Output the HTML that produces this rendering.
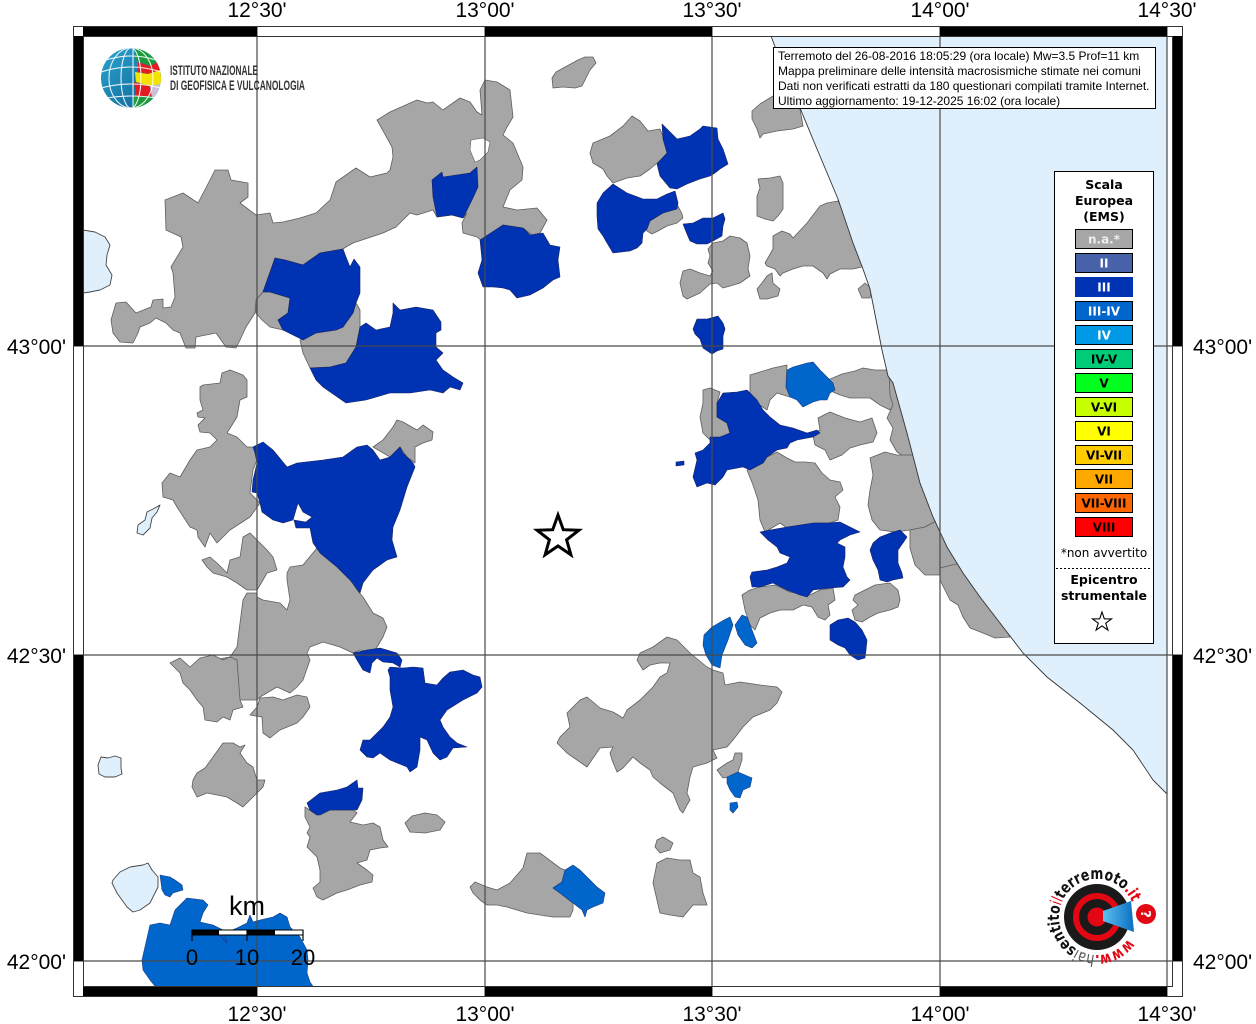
<!DOCTYPE html>
<html><head><meta charset="utf-8"><style>
html,body{margin:0;padding:0;background:#fff;}
svg{display:block;}
</style></head><body>
<svg width="1256" height="1024" viewBox="0 0 1256 1024" xmlns="http://www.w3.org/2000/svg">
<defs>
<clipPath id="map"><rect x="83" y="36" width="1090" height="951"/></clipPath>
<clipPath id="globe"><circle cx="131" cy="78" r="30"/></clipPath>
<linearGradient id="gb" x1="0" y1="0" x2="1" y2="1"><stop offset="0" stop-color="#2aa6cf"/><stop offset="1" stop-color="#0e5f92"/></linearGradient>
<linearGradient id="cone" x1="0" y1="0" x2="1" y2="0"><stop offset="0" stop-color="#5bc0f0"/><stop offset="1" stop-color="#0a6fc0"/></linearGradient>
</defs>
<rect width="1256" height="1024" fill="#fff"/>

<g clip-path="url(#map)">
<g fill="#a6a6a6" stroke="#5e5e5e" stroke-width="0.8" stroke-linejoin="round">
<polygon points="111,320 116,303 126,302 136,313 151,307 153,300 163,299 163,308 171,307 175,297 173,273 171,267 183,247 181,237 166,230 165,200 183,193 198,203 210,180 215,170 228,170 231,180 248,183 248,197 240,203 256,215 270,213 273,223 283,222 300,218 316,213 330,200 336,182 356,168 370,177 387,173 390,170 393,157 392,147 377,120 390,112 417,100 427,103 433,102 443,110 460,98 470,102 477,112 482,115 480,90 485,80 497,82 510,90 513,117 507,127 503,135 513,143 523,167 522,180 510,190 503,207 517,210 537,208 547,220 540,233 532,235 523,228 503,225 500,243 483,242 477,237 463,233 462,223 467,213 463,218 452,215 437,217 433,210 417,215 410,213 396,227 383,233 353,243 346,247 343,249 320,253 303,265 285,260 275,258 263,292 256,300 255,313 246,327 240,340 236,348 226,347 216,333 196,337 195,348 186,348 180,333 173,330 166,323 156,318 150,323 140,327 138,333 133,343 120,342 113,333"/>
<polygon points="256,300 263,292 270,292 290,298 288,313 278,320 283,330 270,327 262,320 256,313"/>
<polygon points="300,340 316,333 336,330 343,327 353,313 356,303 360,310 360,327 356,347 346,363 330,367 310,368 303,353"/>
<polygon points="552,78 556,72 567,66 578,60 585,57 593,57 596,63 590,70 586,78 582,86 575,88 563,87 553,88"/>
<polygon points="590,153 593,143 610,136 623,126 632,116 640,121 648,131 660,129 663,136 668,153 657,163 650,169 640,176 627,178 613,183 607,176 603,169 593,163"/>
<polygon points="643,219 652,213 663,213 673,208 678,206 682,214 683,218 677,223 667,226 658,231 652,234 647,231"/>
<polygon points="708,249 713,243 723,241 730,236 740,238 747,243 750,256 748,269 750,276 740,283 730,286 723,288 717,283 710,284 700,293 687,299 683,296 680,283 683,271 690,269 700,273 710,276 713,271 708,263 710,256"/>
<polygon points="758,179 770,178 780,176 783,183 783,209 778,216 773,221 765,219 757,216 757,196 760,188"/>
<polygon points="752,111 760,104 773,96 790,92 800,100 800,109 803,126 793,129 777,131 763,134 760,138 757,129 752,119"/>
<polygon points="765,263 773,249 773,236 782,231 790,234 793,238 807,223 820,206 827,203 838,201 848,220 856,243 866,266 853,269 840,269 830,274 827,279 823,273 813,266 803,266 793,269 783,273 780,276 775,269 767,266"/>
<polygon points="757,289 762,283 767,276 772,273 773,283 780,289 778,296 767,299 760,299"/>
<polygon points="858,289 865,283 872,289 870,298 862,298"/>
<polygon points="750,375 760,372 773,368 787,365 786,387 790,397 777,393 770,400 767,410 757,403 750,393"/>
<polygon points="703,390 710,388 720,392 717,403 717,417 727,423 730,433 720,438 710,440 703,433 700,417 703,403"/>
<polygon points="828,380 842,374 855,371 863,368 875,370 890,370 896,385 899,398 890,410 880,405 870,398 862,398 850,398 840,395 833,392"/>
<polygon points="818,418 830,412 845,418 860,422 872,418 877,433 873,442 860,445 850,448 842,455 830,460 825,450 815,445 813,435 820,430"/>
<polygon points="889,372 897,385 903,405 910,433 916,455 905,457 897,452 890,440 893,428 887,418 893,405 890,395"/>
<polygon points="747,470 763,463 767,457 777,452 787,458 795,462 805,462 815,463 822,473 830,480 840,482 843,490 835,497 840,507 838,520 830,523 815,523 803,525 790,530 780,523 765,532 760,520 758,500 753,485"/>
<polygon points="870,458 885,452 897,455 916,455 923,483 933,505 938,520 925,527 910,530 895,532 880,530 872,520 868,505 870,490 873,475"/>
<polygon points="910,530 925,527 938,520 950,547 960,563 950,570 940,575 925,575 915,565 910,548"/>
<polygon points="940,568 960,563 966,573 978,590 990,607 1003,623 1010,637 995,638 983,633 970,628 963,617 958,605 950,600 945,590 940,580"/>
<polygon points="742,595 750,590 760,587 775,585 790,592 810,595 820,590 833,588 835,600 828,605 830,615 825,620 818,617 812,607 803,605 793,610 780,610 770,613 760,618 755,630 750,625 745,610"/>
<polygon points="855,595 865,590 875,585 890,583 898,590 900,600 898,607 890,610 878,613 870,617 862,622 855,620 852,610 858,605 853,600"/>
<polygon points="200,387 203,385 220,383 222,373 230,370 243,375 247,380 247,397 240,400 237,417 227,433 237,437 247,447 257,447 257,460 253,470 250,493 260,503 250,517 230,530 217,543 210,533 205,547 198,537 197,530 190,527 177,507 173,500 163,497 162,483 170,473 180,477 190,460 197,450 210,447 217,440 210,433 200,432 198,425 205,418 198,417 197,413 203,410 200,400"/>
<polygon points="373,447 383,440 393,427 397,420 403,422 417,430 423,425 433,432 432,440 423,443 415,447 415,463 407,457 400,447 390,457"/>
<polygon points="290,567 303,565 317,548 343,567 357,590 363,597 373,613 383,618 387,627 383,637 377,647 373,653 360,650 353,653 340,647 323,642 310,647 307,653 310,660 303,680 297,687 290,693 277,687 260,697 257,700 250,700 237,700 223,703 217,697 220,677 213,660 230,657 237,647 240,623 243,600 247,593 257,593 257,597 263,600 280,603 287,610 290,600 287,580 287,573"/>
<polygon points="202,560 210,557 217,563 227,573 230,560 240,557 243,537 250,533 257,540 267,550 273,557 277,570 267,573 263,580 257,590 247,590 237,583 227,577 213,573 207,567"/>
<polygon points="170,663 180,658 190,667 200,658 213,655 223,660 230,657 237,660 240,700 243,707 233,710 230,720 223,717 217,722 205,720 203,707 197,700 190,690 183,683 180,673"/>
<polygon points="250,715 257,707 260,698 273,697 283,700 297,695 307,697 310,707 303,717 297,723 280,730 270,738 263,733 262,717"/>
<polygon points="193,780 197,773 205,768 213,757 223,743 233,743 240,747 245,745 240,753 247,763 253,767 257,780 265,780 263,787 257,793 253,797 243,807 237,803 227,797 217,795 207,793 197,797 192,787"/>
<polygon points="305,807 317,815 330,810 353,810 357,813 350,822 363,825 373,823 380,827 383,840 388,847 380,848 370,850 367,860 357,863 367,870 373,875 372,882 360,885 347,890 337,893 323,900 317,897 313,888 320,882 320,870 317,857 307,847 310,837 307,833 310,827 305,817"/>
<polygon points="405,823 412,816 425,813 437,815 445,822 440,830 425,833 410,832"/>
<polygon points="637,660 640,653 653,647 667,637 677,640 690,653 707,667 713,670 723,673 725,685 740,682 760,685 777,687 782,692 777,703 770,710 753,717 743,727 733,740 727,747 713,750 717,758 707,763 693,767 690,777 687,793 690,800 687,805 683,813 680,810 677,803 673,793 660,783 653,777 650,770 640,763 633,757 623,768 617,772 612,760 610,753 613,747 600,748 587,767 577,760 567,753 557,743 560,737 570,727 567,713 572,708 580,700 587,697 593,702 600,708 613,712 623,718 627,710 640,700 653,687 660,677 667,673 670,663 660,663 650,665 643,670"/>
<polygon points="717,770 727,763 733,760 735,753 742,753 742,760 738,772 730,777 723,778"/>
<polygon points="657,840 663,837 673,843 670,850 660,853 655,847"/>
<polygon points="653,883 657,863 667,858 680,860 690,860 693,873 700,877 703,893 707,905 693,905 683,917 670,915 660,913 657,900"/>
<polygon points="470,887 475,882 487,887 497,890 510,883 523,868 527,853 540,853 560,868 565,870 562,882 553,888 560,893 573,903 573,910 570,917 553,917 527,913 507,907 497,905 487,905 480,900 473,893"/>
</g>
<polygon points="471,140 483,138 490,142 488,152 480,160 475,162 470,150" fill="#fff" stroke="#5e5e5e" stroke-width="0.6"/>

<g fill="#0032b4" stroke="#1a2260" stroke-width="0.6" stroke-linejoin="round">
<polygon points="432,180 442,172 443,177 470,173 477,167 478,187 472,200 463,218 452,215 437,217 433,197"/>
<polygon points="480,240 503,225 523,228 530,235 543,233 550,245 560,247 558,260 560,277 553,280 543,288 530,295 517,298 510,290 503,288 493,287 483,287 478,273 482,260"/>
<polygon points="263,292 275,258 285,260 303,265 320,253 343,249 346,257 350,267 354,259 360,267 360,293 356,303 353,313 343,327 336,330 316,333 303,340 283,330 278,320 288,313 290,298 270,292"/>
<polygon points="310,368 316,380 323,387 346,403 366,400 390,393 410,393 430,390 443,393 450,387 460,390 463,383 453,377 443,370 436,360 443,353 436,347 436,333 441,330 441,322 433,310 416,307 400,310 393,303 393,313 390,327 376,330 366,323 360,327 356,347 346,363 330,367"/>
<polygon points="662,124 667,129 677,139 690,136 700,129 703,126 717,128 718,139 723,149 728,164 720,169 715,173 710,176 700,179 687,184 677,189 670,188 660,176 657,164 667,153 663,139"/>
<polygon points="597,203 603,193 613,184 627,193 643,199 657,199 667,194 675,191 678,203 677,209 663,213 650,221 647,229 643,233 642,243 637,248 630,251 613,253 607,243 603,236 598,229 597,216"/>
<polygon points="683,224 693,223 703,218 713,218 723,213 725,219 723,226 722,236 713,241 707,244 697,244 690,241 687,234"/>
<polygon points="693,329 697,319 707,319 718,316 723,323 725,329 723,336 723,349 717,351 712,354 703,348 700,339 695,334"/>
<polygon points="717,403 723,393 737,392 747,390 757,400 763,410 770,417 780,425 793,428 807,433 817,430 820,433 813,437 797,440 790,443 787,448 777,450 767,457 763,463 750,470 743,467 727,470 723,477 715,485 707,483 697,487 693,477 697,460 695,453 703,450 710,443 710,437 720,437 730,433 727,423 717,417"/>
<polygon points="676,462 684,461 684,465 676,466"/>
<polygon points="760,532 770,530 787,527 800,525 813,523 827,523 840,522 850,527 860,532 850,535 840,540 837,543 845,547 845,557 843,567 847,577 850,580 843,587 830,588 813,590 807,597 800,595 787,590 773,583 760,587 752,587 750,577 752,572 767,570 777,567 787,563 790,557 780,553 777,547 768,540"/>
<polygon points="870,550 873,543 880,537 893,532 900,530 907,537 903,543 898,550 898,563 902,573 903,578 893,580 887,582 880,580 878,570 873,560"/>
<polygon points="830,625 838,620 848,618 855,622 862,630 867,640 866,650 865,658 858,660 850,655 845,648 838,645 830,640"/>
<polygon points="253,447 263,442 273,450 287,467 297,463 323,460 343,457 357,447 367,445 373,450 380,460 390,457 400,447 403,453 413,463 415,467 407,487 400,510 393,527 392,540 397,557 387,560 373,570 363,583 360,593 350,580 337,567 320,553 313,543 310,528 296,528 294,520 306,522 312,517 303,512 298,503 293,520 283,523 273,520 262,512 260,503 257,493 252,492 253,480 257,463 255,453"/>
<polygon points="353,653 367,650 380,648 397,653 402,660 400,667 393,663 383,662 377,658 372,663 370,673 363,670 357,660"/>
<polygon points="388,670 390,667 403,668 413,667 423,668 425,683 437,685 443,678 450,672 463,670 473,675 480,677 482,687 477,693 463,700 447,710 440,720 443,727 450,737 457,743 467,747 453,748 447,757 440,760 433,753 427,740 420,737 420,750 417,767 410,772 407,767 390,760 380,753 373,758 367,757 360,750 363,740 370,740 383,727 390,717 393,707 390,690 390,677"/>
<polygon points="307,803 320,793 337,790 347,787 357,780 358,788 363,788 362,800 357,810 330,810 320,815 317,815 310,810"/>
</g>

<g fill="#0066cc" stroke="#1a3a80" stroke-width="0.6" stroke-linejoin="round">
<polygon points="786,387 787,370 793,367 807,363 813,362 820,370 827,377 833,383 835,390 830,393 827,400 820,400 813,402 803,407 797,400 790,397"/>
<polygon points="704,635 712,627 724,620 730,617 733,625 728,640 722,655 720,668 712,665 706,655 703,645"/>
<polygon points="735,625 742,615 747,617 752,630 757,643 752,648 745,645 738,635"/>
<polygon points="727,777 738,772 752,778 750,787 743,790 740,798 735,797 730,790 727,783"/>
<polygon points="730,803 737,802 738,807 733,813 730,810"/>
<polygon points="553,888 562,882 565,870 573,865 580,870 590,880 597,887 605,893 603,903 593,907 587,910 585,917 582,910 573,903 560,893"/>
<polygon points="160,875 170,877 175,880 182,885 183,890 173,893 170,897 165,895 162,890"/>
<polygon points="142,960 150,925 160,923 170,925 175,910 187,898 203,900 208,905 203,913 200,922 213,925 223,930 227,943 220,935 237,928 247,923 250,915 253,922 260,920 273,917 280,913 287,917 290,927 300,937 307,950 308,960 307,973 310,982 317,992 160,992 150,980 143,970"/>
</g>

<g fill="#dff0fc" stroke="#444" stroke-width="0.9" stroke-linejoin="round">
<polygon points="83,230 95,232 105,237 110,245 107,255 106,265 112,275 110,285 100,290 90,292 83,293"/>
<polygon points="153,509 160,505 157,512 152,518 150,528 143,535 137,533 138,525 145,520 147,512"/>
<polygon points="98,765 101,757 108,758 115,756 121,758 121,768 122,774 115,777 105,777 99,774"/>
<polygon points="113,880 120,872 130,867 143,865 148,863 152,870 158,877 158,887 153,897 150,903 140,910 133,912 127,907 117,893 112,883"/>
</g>

<polygon points="1167,30 771,30 771,36 780,60 790,85 800,108 817,149 838,199 853,243 863,269 870,289 882,350 888,376 893,383 907,433 920,483 933,517 947,547 963,573 980,597 1000,623 1023,653 1047,677 1080,703 1113,730 1133,750 1153,780 1167,794" fill="#dff0fc" stroke="none"/>
<polyline points="771,36 780,60 790,85 800,108 817,149 838,199 853,243 863,269 870,289 882,350 888,376 893,383 907,433 920,483 933,517 947,547 963,573 980,597 1000,623 1023,653 1047,677 1080,703 1113,730 1133,750 1153,780 1167,794" fill="none" stroke="#333" stroke-width="0.9"/>
</g>

<!-- gridlines -->
<g stroke="#4a4a4a" stroke-width="1.2">
<line x1="257" y1="26" x2="257" y2="997"/>
<line x1="485" y1="26" x2="485" y2="997"/>
<line x1="712" y1="26" x2="712" y2="997"/>
<line x1="940" y1="26" x2="940" y2="997"/>
<line x1="1167" y1="26" x2="1167" y2="997"/>
<line x1="73" y1="346" x2="1183" y2="346"/>
<line x1="73" y1="655" x2="1183" y2="655"/>
<line x1="73" y1="961" x2="1183" y2="961"/>
</g>

<!-- frame -->
<g fill="#000">
<rect x="83" y="26" width="174" height="10"/>
<rect x="485" y="26" width="227" height="10"/>
<rect x="940" y="26" width="227" height="10"/>
<rect x="83" y="987" width="174" height="10"/>
<rect x="485" y="987" width="227" height="10"/>
<rect x="940" y="987" width="227" height="10"/>
<rect x="73" y="36" width="10" height="310"/>
<rect x="73" y="655" width="10" height="306"/>
<rect x="1173" y="36" width="10" height="310"/>
<rect x="1173" y="655" width="10" height="306"/>
</g>
<g fill="none" stroke="#333" stroke-width="1">
<rect x="73.5" y="26.5" width="1109" height="970"/>
<rect x="83.5" y="36.5" width="1089" height="950"/>
</g>

<!-- axis labels -->
<g font-family="Liberation Sans, Arial, sans-serif" font-size="21" fill="#000">
<text x="257" y="17" text-anchor="middle">12°30'</text>
<text x="485" y="17" text-anchor="middle">13°00'</text>
<text x="712" y="17" text-anchor="middle">13°30'</text>
<text x="940" y="17" text-anchor="middle">14°00'</text>
<text x="1167" y="17" text-anchor="middle">14°30'</text>
<text x="257" y="1021" text-anchor="middle">12°30'</text>
<text x="485" y="1021" text-anchor="middle">13°00'</text>
<text x="712" y="1021" text-anchor="middle">13°30'</text>
<text x="940" y="1021" text-anchor="middle">14°00'</text>
<text x="1167" y="1021" text-anchor="middle">14°30'</text>
<text x="66" y="354" text-anchor="end">43°00'</text>
<text x="66" y="663" text-anchor="end">42°30'</text>
<text x="66" y="969" text-anchor="end">42°00'</text>
<text x="1193" y="354">43°00'</text>
<text x="1193" y="663">42°30'</text>
<text x="1193" y="969">42°00'</text>
</g>

<!-- info box -->
<rect x="773.5" y="47.5" width="382" height="61" fill="#fff" stroke="#000" stroke-width="1"/>
<g font-family="Liberation Sans, Arial, sans-serif" font-size="12" fill="#000">
<text x="778" y="60">Terremoto del 26-08-2016 18:05:29 (ora locale) Mw=3.5 Prof=11 km</text>
<text x="778" y="75">Mappa preliminare delle intensità macrosismiche stimate nei comuni</text>
<text x="778" y="90">Dati non verificati estratti da 180 questionari compilati tramite Internet.</text>
<text x="778" y="105">Ultimo aggiornamento: 19-12-2025 16:02 (ora locale)</text>
</g>

<!-- legend -->
<rect x="1054.5" y="171.5" width="99" height="472" fill="#fff" stroke="#000" stroke-width="1"/>
<g font-family="DejaVu Sans, Liberation Sans, sans-serif" font-weight="bold" font-size="12.5" text-anchor="middle" fill="#000">
<text x="1104" y="189">Scala</text>
<text x="1104" y="205">Europea</text>
<text x="1104" y="221">(EMS)</text>
</g>
<g stroke="#000" stroke-width="1">
<rect x="1075.5" y="229.5" width="57" height="19" fill="#a6a6a6"/>
<rect x="1075.5" y="253.5" width="57" height="19" fill="#4862aa"/>
<rect x="1075.5" y="277.5" width="57" height="19" fill="#0032b4" stroke="#0032b4"/>
<rect x="1075.5" y="301.5" width="57" height="19" fill="#0066cc"/>
<rect x="1075.5" y="325.5" width="57" height="19" fill="#0099e6"/>
<rect x="1075.5" y="349.5" width="57" height="19" fill="#00cc77"/>
<rect x="1075.5" y="373.5" width="57" height="19" fill="#00ff1e"/>
<rect x="1075.5" y="397.5" width="57" height="19" fill="#c8ff00"/>
<rect x="1075.5" y="421.5" width="57" height="19" fill="#ffff00"/>
<rect x="1075.5" y="445.5" width="57" height="19" fill="#ffcc00"/>
<rect x="1075.5" y="469.5" width="57" height="19" fill="#ffa800"/>
<rect x="1075.5" y="493.5" width="57" height="19" fill="#ff6600"/>
<rect x="1075.5" y="517.5" width="57" height="19" fill="#ff0000"/>
</g>
<g font-family="DejaVu Sans, Liberation Sans, sans-serif" font-weight="bold" font-size="12" text-anchor="middle">
<text x="1104" y="243.5" fill="#eeeeee">n.a.*</text>
<text x="1104" y="267.5" fill="#fff">II</text>
<text x="1104" y="291.5" fill="#fff">III</text>
<text x="1104" y="315.5" fill="#fff">III-IV</text>
<text x="1104" y="339.5" fill="#fff">IV</text>
<text x="1104" y="363.5" fill="#000">IV-V</text>
<text x="1104" y="387.5" fill="#000">V</text>
<text x="1104" y="411.5" fill="#000">V-VI</text>
<text x="1104" y="435.5" fill="#000">VI</text>
<text x="1104" y="459.5" fill="#000">VI-VII</text>
<text x="1104" y="483.5" fill="#000">VII</text>
<text x="1104" y="507.5" fill="#000">VII-VIII</text>
<text x="1104" y="531.5" fill="#000">VIII</text>
</g>
<text x="1104" y="557" font-family="DejaVu Sans, Liberation Sans, sans-serif" font-size="12" text-anchor="middle" fill="#000">*non avvertito</text>
<line x1="1056" y1="568.5" x2="1152" y2="568.5" stroke="#000" stroke-width="1" stroke-dasharray="2,2"/>
<g font-family="DejaVu Sans, Liberation Sans, sans-serif" font-weight="bold" font-size="12.5" text-anchor="middle" fill="#000">
<text x="1104" y="584">Epicentro</text>
<text x="1104" y="600">strumentale</text>
</g>
<polygon points="1102,612 1104.3,618.8 1111.5,618.9 1105.7,623.2 1107.9,630.1 1102,625.9 1096.1,630.1 1098.3,623.2 1092.5,618.9 1099.7,618.8" fill="#fff" stroke="#000" stroke-width="1.1"/>

<!-- epicenter star -->
<polygon points="558,515 563.3,529.7 578.9,530.2 566.6,539.8 570.9,554.8 558,546 545.1,554.8 549.4,539.8 537.1,530.2 552.7,529.7" fill="#fff" stroke="#000" stroke-width="3" stroke-linejoin="miter"/>

<!-- scale bar -->
<text x="247" y="915" font-family="Liberation Sans, Arial, sans-serif" font-size="27" text-anchor="middle" fill="#000">km</text>
<rect x="192" y="930" width="111" height="5" fill="#fff" stroke="#000" stroke-width="1"/>
<rect x="192" y="930" width="27" height="5" fill="#000"/>
<rect x="247" y="930" width="28" height="5" fill="#000"/>
<g stroke="#000" stroke-width="1.2">
<line x1="192" y1="930" x2="192" y2="941"/>
<line x1="247" y1="930" x2="247" y2="941"/>
<line x1="303" y1="930" x2="303" y2="941"/>
</g>
<g font-family="Liberation Sans, Arial, sans-serif" font-size="22" text-anchor="middle" fill="#000">
<text x="192" y="965">0</text>
<text x="247" y="965">10</text>
<text x="303" y="965">20</text>
</g>

<!-- INGV logo -->
<g clip-path="url(#globe)">
<rect x="100" y="47" width="62" height="62" fill="url(#gb)"/>
<polygon points="135,48 150,50 158,62 150,66 140,62 135,60" fill="#1c9a3e"/>
<polygon points="138,62 150,66 158,62 160,70 148,74 138,72" fill="#e31b23"/>
<polygon points="135,72 148,74 160,70 162,84 150,86 136,82" fill="#f3e300"/>
<polygon points="134,82 150,86 152,96 136,96" fill="#e31b23"/>
<polygon points="150,86 162,84 162,100 152,98" fill="#c9c1dc"/>
<polygon points="133,96 152,96 152,98 162,100 160,110 133,110" fill="#1c9a3e"/>
<g fill="none" stroke="#fff" stroke-width="1.1" opacity="0.9">
<ellipse cx="131" cy="78" rx="10" ry="30"/>
<ellipse cx="131" cy="78" rx="22" ry="30"/>
<line x1="133" y1="48" x2="133" y2="108"/>
<path d="M101,72 Q131,62 161,72"/>
<path d="M101,88 Q131,80 161,88"/>
<path d="M106,60 Q131,52 156,60"/>
<path d="M106,98 Q131,94 156,98"/>
</g>
</g>
<g font-family="Liberation Sans, Arial, sans-serif" font-size="13.5" font-weight="bold" fill="#333">
<text x="170" y="75" textLength="88" lengthAdjust="spacingAndGlyphs">ISTITUTO NAZIONALE</text>
<text x="170" y="90" textLength="135" lengthAdjust="spacingAndGlyphs">DI GEOFISICA E VULCANOLOGIA</text>
</g>

<!-- haisentito logo -->
<circle cx="1097" cy="917" r="33" fill="#1a1a1a"/>
<circle cx="1097" cy="917" r="21" fill="none" stroke="#e30613" stroke-width="6"/>
<circle cx="1097" cy="917" r="9.5" fill="#e30613"/>
<polygon points="1103,911 1131,901 1134,932 1103,921" fill="url(#cone)"/>
<circle cx="1146" cy="914" r="10" fill="#e30613"/>
<text x="1146" y="919" font-family="DejaVu Sans, sans-serif" font-weight="bold" font-size="13" fill="#fff" text-anchor="middle" transform="rotate(90 1146 914)">?</text>
<path id="arc" d="M1128.1,938.8 A38 38 0 1 1 1133.7,907.2" fill="none"/>
<text font-family="DejaVu Sans, Liberation Sans, sans-serif" font-weight="bold" font-size="16"><textPath href="#arc" textLength="200" lengthAdjust="spacingAndGlyphs"><tspan fill="#e30613">www.</tspan><tspan fill="#555" font-weight="normal">hai</tspan><tspan fill="#111">sentito</tspan><tspan fill="#e30613" font-weight="normal">il</tspan><tspan fill="#111">terremoto</tspan><tspan fill="#e30613">.it</tspan></textPath></text>
</svg>
</body></html>
